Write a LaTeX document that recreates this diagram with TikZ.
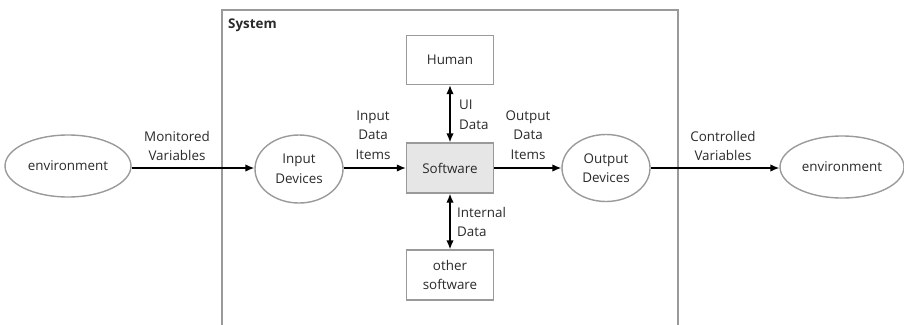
\documentclass[tikz,border=0pt]{standalone}
\usepackage{fontspec}
\setmainfont{Open Sans}
\usetikzlibrary{shapes.geometric,arrows.meta}
\definecolor{edgegray}{HTML}{9A9A9A}
\definecolor{boxfill}{HTML}{E6E6E6}
\definecolor{txtgray}{HTML}{2A2A2A}
\begin{document}
\begin{tikzpicture}[x=1pt,y=1pt]
        \tikzset{every node/.style={inner sep=0pt, text=txtgray, font=\fontsize{13.4}{19.5}\selectfont, align=center},
          oval/.style={ellipse, draw=edgegray, line width=1.4pt},
          box/.style={rectangle, draw=edgegray, line width=1.4pt, minimum width=87, minimum height=49},
          flow/.style={line width=1.4pt, -{Latex[length=9pt,width=7.5pt]}},
          twoway/.style={line width=1.4pt, {Latex[length=9pt,width=7.5pt]}-{Latex[length=9pt,width=7.5pt]}}}
        \useasboundingbox (0,0) rectangle (904,-324);
        \draw [edgegray, line width=1.4pt] (222,-340) -- (222,-10) -- (678,-10) -- (678,-340);
        \node [anchor=north west] (syslabel) at (228,-19) {\bfseries System};
        \node [oval, minimum width=126, minimum height=62] (envin) at (68,-166) {environment};
        \node [oval, minimum width=88, minimum height=68] (indev) at (299,-169) {Input\\Devices};
        \node [box, fill=boxfill, minimum height=50] (sw) at (450,-168) {Software};
        \node [box] (human) at (450,-60) {Human};
        \node [box, minimum height=50] (other) at (450,-275) {other\\software};
        \node [oval, minimum width=88, minimum height=67] (outdev) at (606,-168) {Output\\Devices};
        \node [oval, minimum width=124, minimum height=62] (envout) at (842,-167) {environment};
        \draw [flow] (envin.east |- 0,-168) -- (indev.west |- 0,-168);
        \draw [flow] (indev.east |- 0,-168) -- (sw.west);
        \draw [flow] (sw.east) -- (outdev.west);
        \draw [flow] (outdev.east) -- (envout.west |- 0,-168);
        \draw [twoway] (human.south) -- (sw.north);
        \draw [twoway] (sw.south) -- (other.north);
        \node (monlabel) at (177,-146) {Monitored\\Variables};
        \node (inlabel) at (373,-135) {Input\\Data\\Items};
        \node (outlabel) at (528,-135) {Output\\Data\\Items};
        \node (ctllabel) at (723,-146) {Controlled\\Variables};
        \node [anchor=west, align=left] (uilabel) at (459,-115) {UI\\Data};
        \node [anchor=west, align=left] (intlabel) at (457,-222) {Internal\\Data};
\end{tikzpicture}
\end{document}
